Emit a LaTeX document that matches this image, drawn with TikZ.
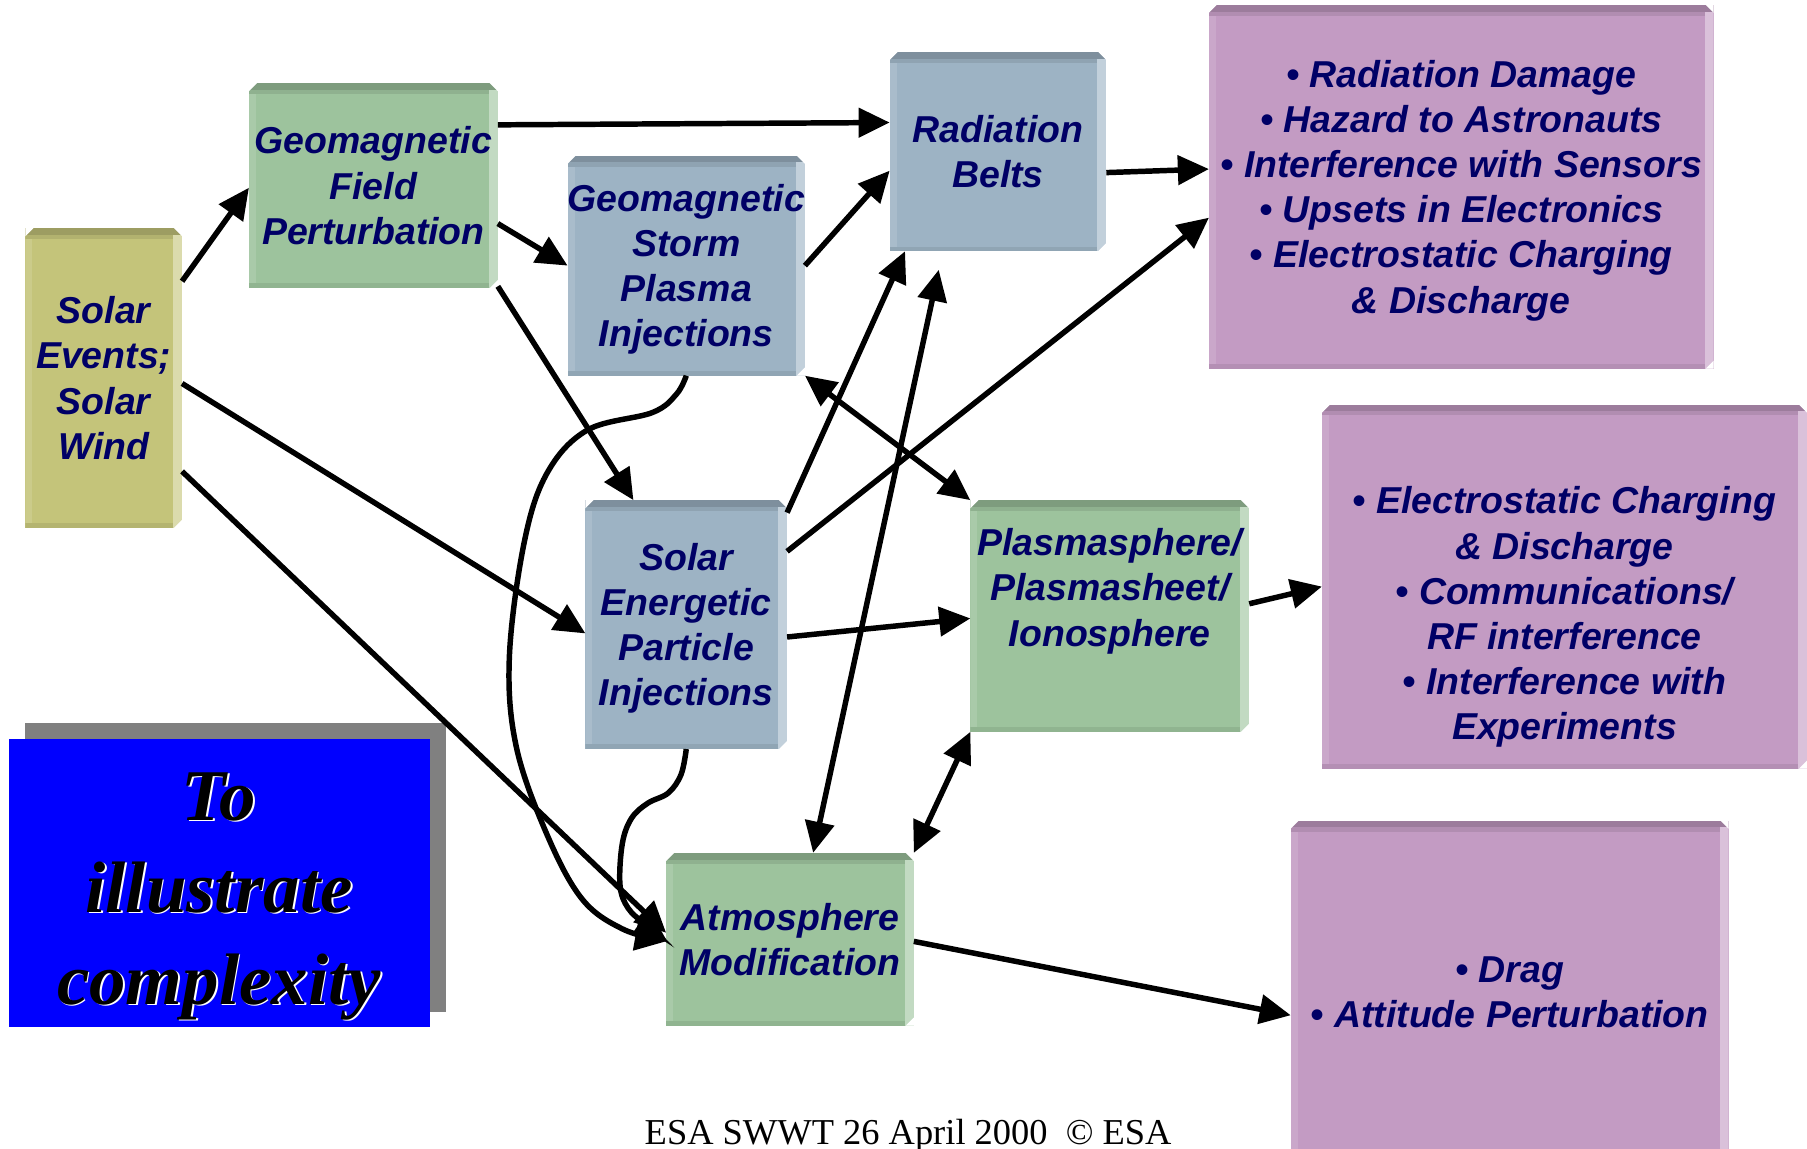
\documentclass[tikz,border=0pt]{standalone}
\usepackage{fontspec}
\setmainfont{Liberation Serif}
\newfontfamily\panelface{Liberation Sans}
\usetikzlibrary{arrows.meta, calc}

\definecolor{ink}{RGB}{0,0,102}
\definecolor{geogreen}{RGB}{157,195,157}
\definecolor{stormblue}{RGB}{157,179,196}
\definecolor{solarolive}{RGB}{196,196,122}
\definecolor{effpurple}{RGB}{195,155,195}
\definecolor{shadowgrey}{RGB}{128,128,128}
\definecolor{pureblue}{RGB}{0,0,255}

\newcommand{\panelfont}{\panelface\bfseries\itshape\fontsize{18.5}{22.3}\selectfont}
\newcommand{\mottofont}{\bfseries\itshape\fontsize{36}{45.5}\selectfont}
\newcommand{\creditfont}{\fontsize{18}{20}\selectfont}

\tikzset{
  paneltext/.style = {text = ink, font = \panelfont, align = center},
  panel/.style = {
    paneltext, fill = #1, inner sep = 0pt, outer sep = 0pt,
    text depth = -0.18cm,
    path picture = {
      \path (path picture bounding box.north west) coordinate (pnw)
            (path picture bounding box.south east) coordinate (pse);
      % side and bottom edges
      \fill[#1!88!white] (pnw) rectangle ($(pnw |- pse) + (3.4pt, 0)$);
      \fill[#1!92!black] (pnw |- pse) rectangle ($(pse) + (0, 2.3pt)$);
      \fill[#1!62!white] ($(pse |- pnw) - (4.5pt, 0)$) rectangle (pse);
      % top bevel
      \fill[#1!80!black] (pnw) rectangle ($(pse |- pnw) - (0, 3.4pt)$);
      \fill[#1!91!black] ($(pnw) - (0, 3.4pt)$) rectangle ($(pse |- pnw) - (4.5pt, 5.4pt)$);
      % cut corners
      \fill[white] (pnw) -- ++(4pt, 0) -- ++(-4pt, -4pt) -- cycle;
      \fill[white] (pse |- pnw) -- ++(0, -4pt) -- ++(-4pt, 4pt) -- cycle;
      \fill[white] (pse) -- ++(0, 4pt) -- ++(-4pt, -4pt) -- cycle;
    }
  },
  link/.style = {line width = 0.095cm},
  motto/.style = {font = \mottofont, align = center},
}

\begin{document}
\begin{tikzpicture}[x = 0.02cm, y = -0.02cm,
    >={Triangle[length = 0.54cm, width = 0.5cm]}]
  \useasboundingbox (0, 0) rectangle (1568, 997);
  \clip (0, 0) rectangle (1568, 997);

  % ------------------------------------------------------------------------
  % Causes
  \node[panel = solarolive, minimum width = 2.72cm, minimum height = 5.2cm]
    at (90, 328) (solar) {Solar\\Events;\\Solar\\Wind};
  \node[panel = geogreen, minimum width = 4.32cm, minimum height = 3.56cm]
    at (324, 161) (gfp) {Geomagnetic\\Field\\Perturbation};
  \node[panel = stormblue, minimum width = 4.06cm, minimum height = 3.82cm]
    at (595.5, 230.5) (storm) {Geomagnetic\\Storm\\Plasma\\Injections};
  \node[panel = stormblue, minimum width = 3.76cm, minimum height = 3.46cm]
    at (866, 131.5) (rad) {Radiation\\Belts};
  \node[panel = stormblue, minimum width = 3.5cm, minimum height = 4.32cm]
    at (595.5, 542) (sep) {Solar\\Energetic\\Particle\\Injections};
  \node[panel = geogreen, minimum width = 4.84cm, minimum height = 4.02cm,
        label = {[paneltext, yshift = 0.43cm]center:{Plasmasphere/\\Plasmasheet/\\Ionosphere}}]
    at (963, 534.5) (plasma) {};
  \node[panel = geogreen, minimum width = 4.3cm, minimum height = 3cm]
    at (685.5, 815) (atmo) {Atmosphere\\Modification};

  % ------------------------------------------------------------------------
  % Effects
  \node[panel = effpurple, minimum width = 8.76cm, minimum height = 6.32cm]
    at (1268, 162) (eff1) {\textbullet{} Radiation Damage\\\textbullet{} Hazard to Astronauts\\
      \textbullet{} Interference with Sensors\\\textbullet{} Upsets in Electronics\\
      \textbullet{} Electrostatic Charging\\\& Discharge};
  \node[panel = effpurple, minimum width = 8.42cm, minimum height = 6.32cm,
        label = {[paneltext, yshift = -0.53cm]center:{\textbullet{} Electrostatic Charging\\
          \& Discharge\\\textbullet{} Communications/\\RF interference\\
          \textbullet{} Interference with\\Experiments}}]
    at (1357.5, 509) (eff2) {};
  \node[panel = effpurple, minimum width = 7.6cm, minimum height = 5.96cm]
    at (1310, 861) (eff3) {\textbullet{} Drag\\\textbullet{} Attitude Perturbation};

  % ------------------------------------------------------------------------
  % Note
  \fill[shadowgrey] (22, 627) rectangle (387, 878);
  \node[fill = pureblue, minimum width = 7.3cm, minimum height = 5cm, inner sep = 0pt]
    at (190.5, 766) (blurb) {};
  \node[motto, text = white] at (191.5, 779) (blurbshade) {To\\illustrate\\complexity};
  \node[motto, text = black] at (190, 778) (blurbtext) {To\\illustrate\\complexity};

  \node[font = \creditfont, anchor = base] at (788, 993) (credit)
    {ESA SWWT 26 April 2000~~© ESA};

  % ------------------------------------------------------------------------
  % Links
  \path[link, ->]
    (solar.51)    edge (gfp.181)
    (gfp.26.6)    edge (rad.165.4)
    (gfp.343.5)   edge (storm.west)
    (gfp.321.1)   edge (sep.113.6)
    (storm.east)  edge (rad.190.5)
    (rad.349.5)   edge (eff1.176.6)
    (solar.356.6) edge (sep.185.2)
    (solar.310.7) edge (atmo.177.3)
    (sep.48.2)    edge (rad.227.6)
    (sep.36.2)    edge (eff1.187.8)
    (sep.353.5)   edge (plasma.181.2)
    (plasma.5)    edge (eff2.west)
    (atmo.359)    edge (eff3.186.6)
  ;
  \path[link, <->]
    (storm.south east) edge (plasma.north west)
    (atmo.north east)  edge (plasma.south west)
  ;
  \draw[link, <->, shorten > = 0.33cm] (atmo.75.2) -- (rad.241.7);

  \draw[link, ->] plot[smooth, tension = 0.6] coordinates {(storm.south) (587, 342)
    (566, 358) (510, 373) (475, 410) (455, 470) (442, 570) (448, 648) (475, 725)
    (505, 780) (540, 806) (atmo.181.5)};
  \draw[link, ->] plot[smooth, tension = 0.6] coordinates {(sep.south) (591, 672)
    (580, 688) (562, 697) (548, 710) (540, 732) (538, 768) (545, 788) (560, 802)
    (atmo.west)};
\end{tikzpicture}
\end{document}
